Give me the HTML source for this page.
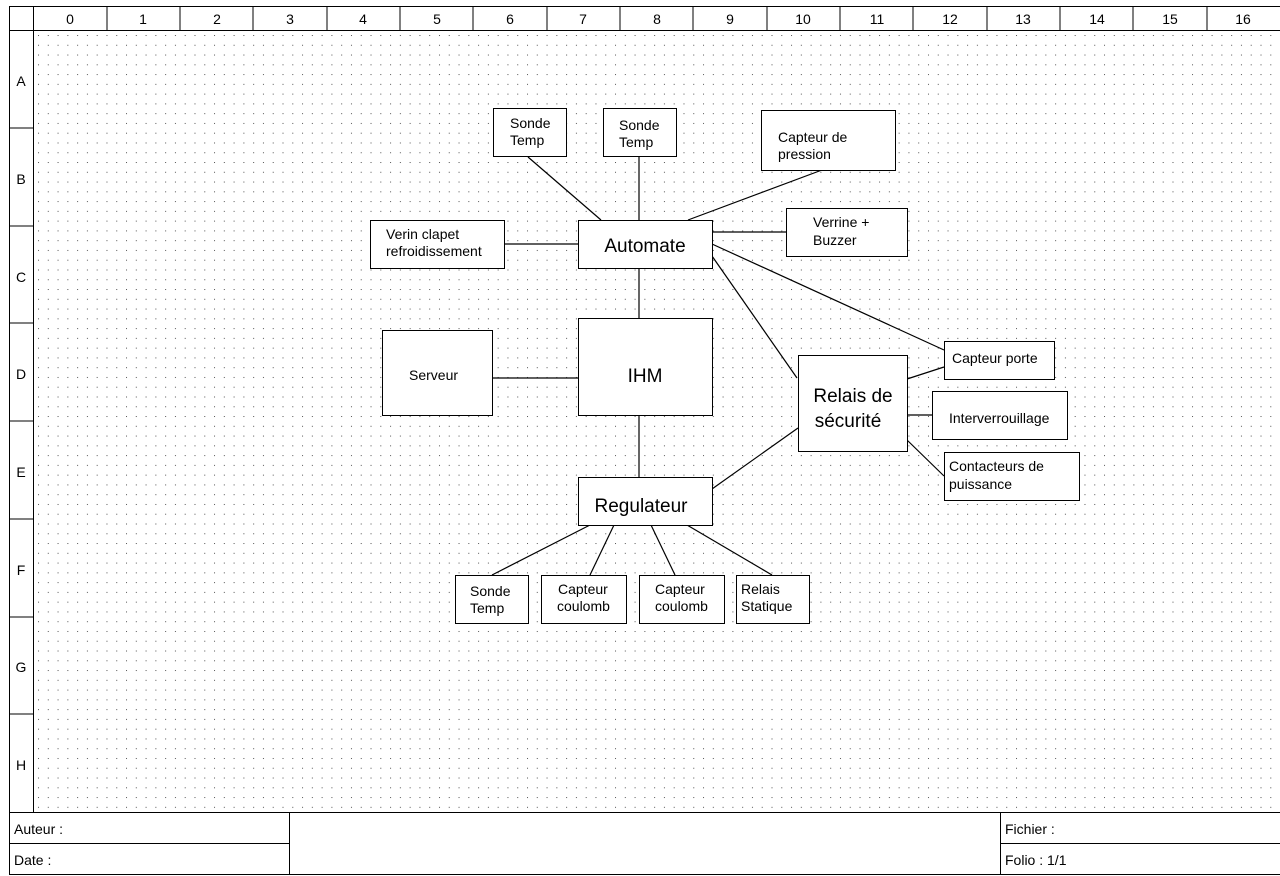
<!DOCTYPE html>
<html><head><meta charset="utf-8"><style>
html,body{margin:0;padding:0;background:#fff;}
svg{display:block;}
text{font-family:"Liberation Sans",sans-serif;fill:#000;}
</style></head><body>
<svg width="1280" height="876" viewBox="0 0 1280 876" xmlns="http://www.w3.org/2000/svg">
<defs>
<pattern id="dots" x="38" y="35" width="9.78" height="9.77" patternUnits="userSpaceOnUse">
<rect x="0" y="0" width="1" height="1" fill="#555"/>
</pattern>
</defs>
<rect x="33" y="30" width="1247" height="782" fill="url(#dots)"/>
<g stroke="#000" stroke-width="1" fill="none" shape-rendering="crispEdges">
<rect x="9.5" y="6.5" width="1280" height="868"/>
<line x1="9" y1="30.5" x2="1280" y2="30.5"/>
<line x1="33.5" y1="6" x2="33.5" y2="812"/>
<line x1="9" y1="812.5" x2="1280" y2="812.5"/>
<line x1="9" y1="843.5" x2="289" y2="843.5"/>
<line x1="1000" y1="843.5" x2="1280" y2="843.5"/>
<line x1="289.5" y1="812" x2="289.5" y2="875"/>
<line x1="1000.5" y1="812" x2="1000.5" y2="875"/>
</g>
<g id="hdr" stroke="#000" stroke-width="1" shape-rendering="crispEdges"></g>
<g font-size="14" text-anchor="middle" id="hdrtxt"></g>
<g font-size="14">
<text x="14" y="834">Auteur :</text>
<text x="14" y="865">Date :</text>
<text x="1005" y="834">Fichier :</text>
<text x="1005" y="865">Folio : 1/1</text>
</g>
<g stroke="#000" stroke-width="1.2" fill="none">
<line x1="528" y1="157" x2="601" y2="220"/>
<line x1="639" y1="156" x2="639" y2="220"/>
<line x1="822" y1="170" x2="688" y2="220"/>
<line x1="712" y1="232" x2="786" y2="232"/>
<line x1="504" y1="244" x2="578" y2="244"/>
<line x1="639" y1="268" x2="639" y2="318"/>
<line x1="712" y1="244" x2="944" y2="350"/>
<line x1="712" y1="256" x2="797" y2="378"/>
<line x1="907" y1="379" x2="944" y2="367"/>
<line x1="907" y1="415" x2="932" y2="415"/>
<line x1="907" y1="440" x2="944" y2="476"/>
<line x1="492" y1="378" x2="578" y2="378"/>
<line x1="639" y1="415" x2="639" y2="477"/>
<line x1="712" y1="489" x2="798" y2="428"/>
<line x1="590" y1="525" x2="492" y2="575"/>
<line x1="614" y1="525" x2="590" y2="575"/>
<line x1="651" y1="525" x2="675" y2="575"/>
<line x1="687" y1="525" x2="772" y2="575"/>
</g>
<g stroke="#000" stroke-width="1.3" fill="#fff" shape-rendering="crispEdges">
<rect x="493.5" y="108.5" width="73" height="48"/>
<rect x="603.5" y="108.5" width="73" height="48"/>
<rect x="761.5" y="110.5" width="134" height="60"/>
<rect x="786.5" y="208.5" width="121" height="48"/>
<rect x="370.5" y="220.5" width="134" height="48"/>
<rect x="578.5" y="220.5" width="134" height="48"/>
<rect x="382.5" y="330.5" width="110" height="85"/>
<rect x="578.5" y="318.5" width="134" height="97"/>
<rect x="798.5" y="355.5" width="109" height="96"/>
<rect x="944.5" y="341.5" width="110" height="38"/>
<rect x="932.5" y="391.5" width="135" height="48"/>
<rect x="944.5" y="452.5" width="135" height="48"/>
<rect x="578.5" y="477.5" width="134" height="48"/>
<rect x="455.5" y="575.5" width="73" height="48"/>
<rect x="541.5" y="575.5" width="85" height="48"/>
<rect x="639.5" y="575.5" width="85" height="48"/>
<rect x="736.5" y="575.5" width="73" height="48"/>
</g>
<g font-size="14">
<text x="510" y="128">Sonde</text><text x="510" y="145">Temp</text>
<text x="619" y="130">Sonde</text><text x="619" y="147">Temp</text>
<text x="778" y="142">Capteur de</text><text x="778" y="159">pression</text>
<text x="813" y="227">Verrine +</text><text x="813" y="245">Buzzer</text>
<text x="386" y="239">Verin clapet</text><text x="386" y="256">refroidissement</text>
<text x="409" y="380">Serveur</text>
<text x="952" y="363">Capteur porte</text>
<text x="949" y="423">Interverrouillage</text>
<text x="949" y="471">Contacteurs de</text><text x="949" y="489">puissance</text>
<text x="470" y="596">Sonde</text><text x="470" y="613">Temp</text>
<text x="558" y="594">Capteur</text><text x="557" y="611">coulomb</text>
<text x="655" y="594">Capteur</text><text x="655" y="611">coulomb</text>
<text x="741" y="594">Relais</text><text x="741" y="611">Statique</text>
</g>
<g font-size="19" text-anchor="middle">
<text x="645" y="252">Automate</text>
<text x="645" y="382">IHM</text>
<text x="853" y="402">Relais de</text>
<text x="848" y="427">sécurité</text>
<text x="641" y="512">Regulateur</text>
</g>
<g font-size="14" text-anchor="middle">
<text x="70" y="24">0</text><text x="143" y="24">1</text><text x="217" y="24">2</text><text x="290" y="24">3</text><text x="363" y="24">4</text><text x="437" y="24">5</text><text x="510" y="24">6</text><text x="583" y="24">7</text><text x="657" y="24">8</text><text x="730" y="24">9</text><text x="803" y="24">10</text><text x="877" y="24">11</text><text x="950" y="24">12</text><text x="1023" y="24">13</text><text x="1097" y="24">14</text><text x="1170" y="24">15</text><text x="1243" y="24">16</text>
<text x="21" y="86">A</text><text x="21" y="184">B</text><text x="21" y="282">C</text><text x="21" y="379">D</text><text x="21" y="477">E</text><text x="21" y="575">F</text><text x="21" y="672">G</text><text x="21" y="770">H</text>
</g>
<g stroke="#000" stroke-width="1" shape-rendering="crispEdges">
<line x1="107" y1="6" x2="107" y2="30"/><line x1="180" y1="6" x2="180" y2="30"/><line x1="253" y1="6" x2="253" y2="30"/><line x1="327" y1="6" x2="327" y2="30"/><line x1="400" y1="6" x2="400" y2="30"/><line x1="473" y1="6" x2="473" y2="30"/><line x1="547" y1="6" x2="547" y2="30"/><line x1="620" y1="6" x2="620" y2="30"/><line x1="693" y1="6" x2="693" y2="30"/><line x1="767" y1="6" x2="767" y2="30"/><line x1="840" y1="6" x2="840" y2="30"/><line x1="913" y1="6" x2="913" y2="30"/><line x1="987" y1="6" x2="987" y2="30"/><line x1="1060" y1="6" x2="1060" y2="30"/><line x1="1133" y1="6" x2="1133" y2="30"/><line x1="1207" y1="6" x2="1207" y2="30"/>
<line x1="9" y1="128" x2="33" y2="128"/><line x1="9" y1="226" x2="33" y2="226"/><line x1="9" y1="323" x2="33" y2="323"/><line x1="9" y1="421" x2="33" y2="421"/><line x1="9" y1="519" x2="33" y2="519"/><line x1="9" y1="617" x2="33" y2="617"/><line x1="9" y1="714" x2="33" y2="714"/>
</g>
</svg>
</body></html>
